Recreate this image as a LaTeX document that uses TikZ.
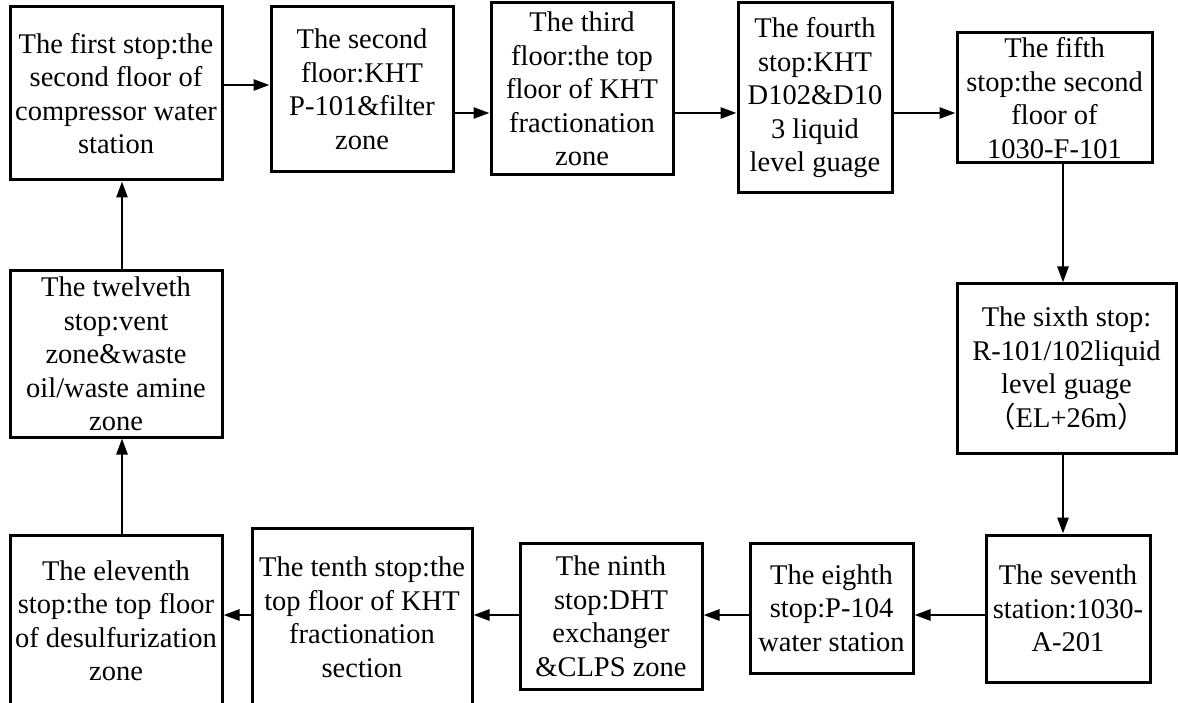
\documentclass[tikz,border=0pt]{standalone}
\usepackage{fontspec}
\setmainfont{Liberation Serif}
\newfontfamily\cjk{Noto Sans CJK SC}
\usetikzlibrary{arrows.meta}

\begin{document}
\begin{tikzpicture}[x=1pt, y=-1pt]
            \tikzstyle{stopbox}=[draw, line width=3pt, inner sep=0pt, align=center,
                font=\fontsize{28.5pt}{33.5pt}\selectfont]
            \tikzstyle{flow}=[line width=2.6pt, -{Triangle[length=16pt,width=11pt]}]
            \useasboundingbox (0,0) rectangle (1178,703);
            \clip (0,0) rectangle (1178,703);

            % top row
            \node[stopbox, minimum width=212pt, minimum height=173pt] (b1)  at (116,93.5)  {The first stop:the\\second floor of\\compressor water\\station};
            \node[stopbox, minimum width=182pt, minimum height=165pt] (b2)  at (362,89.5)  {The second\\floor:KHT\\P-101\&filter\\zone};
            \node[stopbox, minimum width=182pt, minimum height=172pt] (b3)  at (582,89)    {The third\\floor:the top\\floor of KHT\\fractionation\\zone};
            \node[stopbox, minimum width=154pt, minimum height=190pt] (b4)  at (815,98)    {The fourth\\stop:KHT\\D102\&D10\\3 liquid\\level guage};
            \node[stopbox, minimum width=195pt, minimum height=130pt] (b5)  at (1054.5,98) {The fifth\\stop:the second\\floor of\\1030-F-101};

            % right side
            \node[stopbox, minimum width=219pt, minimum height=169pt] (b6)  at (1066.5,368.5) {The sixth stop:\\R-101/102liquid\\level guage\\{\cjk （}EL+26m{\cjk ）}};
            \node[stopbox, minimum width=164pt, minimum height=147pt] (b7)  at (1068,608.5) {The seventh\\station:1030-\\A-201};

            % bottom row
            \node[stopbox, minimum width=163pt, minimum height=130pt] (b8)  at (831.5,608) {The eighth\\stop:P-104\\water station};
            \node[stopbox, minimum width=182pt, minimum height=146pt] (b9)  at (611,616)   {The ninth\\stop:DHT\\exchanger\\\&CLPS zone};
            \node[stopbox, minimum width=220pt, minimum height=178pt] (b10) at (362,617)   {The tenth stop:the\\top floor of KHT\\fractionation\\section};
            \node[stopbox, minimum width=212pt, minimum height=171pt] (b11) at (116,620.5) {The eleventh\\stop:the top floor\\of desulfurization\\zone};

            % left side
            \node[stopbox, minimum width=212pt, minimum height=166pt] (b12) at (116,354)   {The twelveth\\stop:vent\\zone\&waste\\oil/waste amine\\zone};

            \coordinate (yA) at (0,85);
            \coordinate (yB) at (0,113);
            \coordinate (yC) at (0,615);
            \coordinate (xR) at (1063,0);
            \coordinate (xL) at (122,0);

            \draw[flow] (b1.east |- yA) -- (b2.west |- yA);
            \draw[flow] (b2.east |- yB) -- (b3.west |- yB);
            \draw[flow] (b3.east |- yB) -- (b4.west |- yB);
            \draw[flow] (b4.east |- yB) -- (b5.west |- yB);

            \draw[flow] (b5.south -| xR) -- (b6.north -| xR);
            \draw[flow] (b6.south -| xR) -- (b7.north -| xR);

            \draw[flow] (b7.west |- yC) -- (b8.east |- yC);
            \draw[flow] (b8.west |- yC) -- (b9.east |- yC);
            \draw[flow] (b9.west |- yC) -- (b10.east |- yC);
            \draw[flow] (b10.west |- yC) -- (b11.east |- yC);

            \draw[flow] (b11.north -| xL) -- (b12.south -| xL);
            \draw[flow] (b12.north -| xL) -- (b1.south -| xL);
        \end{tikzpicture}
\end{document}
